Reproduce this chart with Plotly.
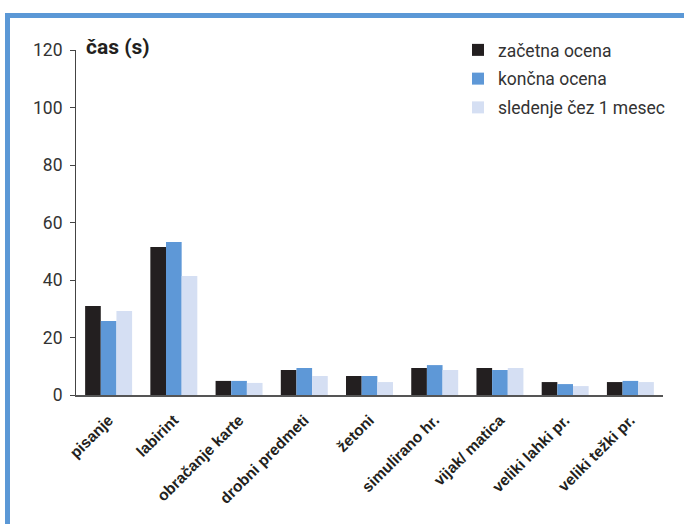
import plotly.graph_objects as go

categories = ["pisanje", "labirint", "obračanje karte", "drobni predmeti", "žetoni",
              "simulirano hr.", "vijak/ matica", "veliki lahki pr.", "veliki težki pr."]
zacetna = [31.0, 51.5, 4.9, 8.7, 6.6, 9.4, 9.4, 4.5, 4.5]
koncna = [25.7, 53.2, 4.9, 9.4, 6.6, 10.4, 8.7, 3.8, 4.9]
sledenje = [29.2, 41.4, 4.2, 6.6, 4.5, 8.7, 9.4, 3.1, 4.5]
series_names = ["začetna ocena", "končna ocena", "sledenje čez 1 mesec"]
colors = ["#231f20", "#5e98d7", "#d5dff3"]
y_ticks = [0, 20, 40, 60, 80, 100, 120]

W, H = 684, 524
L, R, T, B = 76, 21, 50, 129
PW, PH = W - L - R, H - T - B

def px(x):
    return (x - L) / PW

def py(y):
    return (H - B - y) / PH

fig = go.Figure()
for i, (name, vals, c) in enumerate(zip(series_names, [zacetna, koncna, sledenje], colors)):
    fig.add_trace(go.Bar(x=categories, y=vals, name=name, marker_color=c,
                         marker_line_width=0, legendgroup=f"g{i}"))

border = "#5b98d6"
fig.add_shape(type="line", xref="paper", yref="paper", x0=px(5), x1=px(684), y0=py(15.5), y1=py(15.5),
              line=dict(color=border, width=5))
fig.add_shape(type="line", xref="paper", yref="paper", x0=px(7.5), x1=px(7.5), y0=py(13), y1=py(524),
              line=dict(color=border, width=5))

fig.add_annotation(text="<b>čas (s)</b>", xref="paper", yref="paper", x=px(84), y=py(47),
                   xanchor="left", yanchor="middle", showarrow=False,
                   font=dict(family="Roboto", size=21, color="#231f20"))

fig.update_layout(
    width=W, height=H,
    margin=dict(l=L, r=R, t=T, b=B, autoexpand=False),
    paper_bgcolor="white", plot_bgcolor="white",
    barmode="group", bargap=0.28, bargroupgap=0,
    font=dict(family="Roboto", color="#333"),
    legend=dict(x=px(458), y=py(32), xanchor="left", yanchor="top",
                font=dict(family="Roboto", size=17.5, color="#333"),
                traceorder="grouped", tracegroupgap=3, itemwidth=30,
                bgcolor="rgba(0,0,0,0)"),
    xaxis=dict(showline=True, linecolor="#555", linewidth=2, ticks="",
               tickangle=-45, showgrid=False, ticklabelstandoff=8,
               tickfont=dict(family="Liberation Sans", size=15.5, color="#231f20")),
    yaxis=dict(range=[0, 120], tickvals=y_ticks, showline=True, linecolor="#444",
               linewidth=1, ticks="outside", ticklen=5, tickcolor="#444",
               showgrid=False, zeroline=False, ticklabelstandoff=4,
               tickfont=dict(family="Roboto", size=17.5, color="#333")),
)
fig.update_xaxes(tickprefix="<b>", ticksuffix="</b>")
fig.write_html("out.html")
